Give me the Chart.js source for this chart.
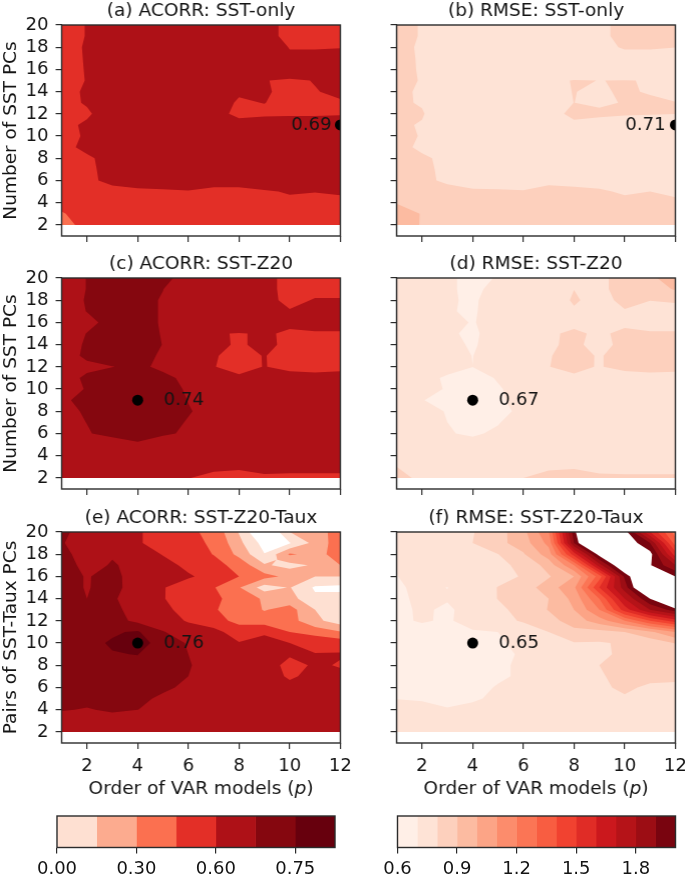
<!DOCTYPE html>
<html>
<head>
<meta charset="utf-8">
<style>
  html, body { margin: 0; padding: 0; background: #fff; }
  body { width: 685px; height: 875px; position: relative; overflow: hidden; }
  canvas { position: absolute; }
</style>
<script src="https://cdn.jsdelivr.net/npm/chart.js@4"></script>
</head>
<body>
<script>
const xGrid = [1, 2, 3, 4, 5, 6, 7, 8, 9, 10, 11, 12];
const yGrid = [20, 19, 18, 17, 16, 15, 14, 13, 12, 11, 10, 9, 8, 7, 6, 5, 4, 3, 2];
const xTicks = [2, 4, 6, 8, 10, 12];
const yTicks = [2, 4, 6, 8, 10, 12, 14, 16, 18, 20];

const levelsAcorr = [0, 0.15, 0.30, 0.45, 0.60, 0.70, 0.75, 0.80];
const levelsRmse = [0.6, 0.7, 0.8, 0.9, 1.0, 1.1, 1.2, 1.3, 1.4, 1.5, 1.6, 1.7, 1.8, 1.9, 2.0];
const colorsAcorr = ['#fee0d2', '#fcab8f', '#fb7050', '#e32f27', '#ae1117', '#85070f', '#67000d'];
const colorsRmse = ['#ffefe7', '#fee3d6', '#fdd0bd', '#fcbba1', '#fca486', '#fc8c6c', '#fb7555',
                    '#f85d41', '#f14230', '#e02c26', '#cb181d', '#b51318', '#9c0d14', '#79040f'];
const ticksAcorr = ['0.00', '0.30', '0.60', '0.75'];
const ticksRmse = ['0.6', '0.9', '1.2', '1.5', '1.8'];

// rows run from y=20 down to y=2, columns from p=1 to p=12
const acorrSstOnly = [
  [.58, .602, .63, .63, .63, .63, .63, .63, .61, .592, .58, .58],
  [.58, .602, .64, .65, .65, .65, .65, .64, .61, .592, .585, .585],
  [.58, .605, .64, .65, .65, .65, .65, .64, .63, .598, .598, .599],
  [.58, .604, .64, .65, .66, .66, .66, .65, .64, .608, .608, .61],
  [.58, .603, .64, .65, .66, .66, .66, .65, .63, .62, .62, .62],
  [.58, .602, .64, .65, .66, .66, .65, .62, .601, .596, .601, .61],
  [.58, .608, .64, .65, .66, .66, .64, .605, .606, .586, .599, .604],
  [.58, .606, .64, .65, .66, .65, .62, .595, .601, .585, .59, .598],
  [.58, .59, .64, .65, .66, .65, .606, .596, .591, .59, .592, .588],
  [.58, .611, .65, .66, .67, .67, .65, .606, .627, .64, .632, .69],
  [.58, .607, .65, .66, .67, .67, .66, .65, .65, .65, .65, .66],
  [.58, .616, .65, .66, .67, .67, .66, .65, .65, .65, .65, .65],
  [.58, .59, .623, .65, .66, .66, .65, .65, .65, .65, .65, .65],
  [.57, .59, .616, .64, .65, .65, .65, .65, .65, .64, .64, .64],
  [.56, .59, .612, .623, .64, .645, .615, .615, .63, .63, .63, .63],
  [.54, .57, .585, .59, .59, .595, .59, .59, .595, .604, .601, .605],
  [.49, .53, .56, .57, .57, .57, .58, .58, .58, .59, .59, .59],
  [.44, .50, .53, .54, .54, .54, .55, .55, .55, .56, .56, .56],
  [.40, .494, .51, .52, .52, .52, .52, .53, .53, .54, .54, .54]
];
const rmseSstOnly = [
  [.82, .796, .76, .75, .75, .75, .75, .76, .79, .813, .83, .83],
  [.82, .796, .75, .74, .74, .74, .74, .75, .79, .813, .83, .83],
  [.82, .791, .75, .74, .74, .74, .74, .75, .77, .81, .81, .801],
  [.82, .793, .75, .74, .74, .74, .74, .75, .75, .76, .76, .76],
  [.82, .794, .75, .74, .74, .74, .75, .76, .76, .76, .76, .76],
  [.82, .796, .75, .74, .74, .74, .79, .802, .7997, .801, .7987, .78],
  [.82, .788, .75, .74, .74, .74, .78, .802, .785, .815, .79, .78],
  [.82, .79, .75, .74, .74, .74, .77, .8005, .78, .807, .823, .802],
  [.82, .81, .71, .73, .74, .74, .78, .813, .825, .81, .805, .802],
  [.82, .791, .74, .73, .73, .73, .75, .789, .742, .743, .75, .71],
  [.82, .796, .74, .73, .72, .72, .73, .74, .74, .74, .74, .74],
  [.82, .788, .74, .73, .72, .72, .73, .74, .74, .74, .74, .74],
  [.83, .81, .785, .74, .73, .73, .74, .74, .74, .74, .74, .74],
  [.84, .81, .79, .75, .74, .74, .75, .75, .75, .75, .75, .75],
  [.85, .82, .785, .77, .76, .76, .785, .78, .77, .76, .76, .76],
  [.87, .85, .83, .81, .81, .805, .82, .815, .81, .79, .80, .78],
  [.898, .87, .85, .84, .84, .84, .84, .84, .83, .82, .82, .82],
  [.92, .898, .87, .86, .86, .86, .86, .85, .85, .85, .85, .84],
  [.95, .894, .88, .87, .87, .87, .87, .86, .86, .86, .86, .85]
];
const acorrSstZ20 = [
  [.68, .701, .72, .72, .71, .685, .67, .66, .61, .59, .59, .59],
  [.68, .701, .72, .72, .7005, .68, .67, .66, .61, .59, .592, .592],
  [.68, .703, .72, .71, .6975, .68, .66, .65, .61, .592, .602, .602],
  [.68, .701, .72, .71, .6975, .68, .66, .65, .63, .602, .61, .61],
  [.67, .69, .712, .71, .6975, .68, .66, .65, .63, .61, .612, .612],
  [.68, .701, .72, .71, .6985, .67, .605, .597, .606, .593, .597, .597],
  [.68, .705, .72, .71, .6995, .67, .61, .595, .61, .59, .585, .585],
  [.68, .708, .72, .71, .696, .66, .602, .592, .601, .59, .585, .585],
  [.67, .69, .699, .709, .691, .65, .601, .59, .601, .592, .59, .592],
  [.68, .708, .72, .73, .71, .69, .66, .605, .62, .612, .61, .612],
  [.68, .703, .72, .74, .72, .694, .66, .64, .63, .63, .63, .63],
  [.68, .734, .73, .74, .72, .699, .66, .64, .63, .63, .63, .63],
  [.68, .708, .72, .73, .72, .702, .69, .65, .64, .64, .64, .64],
  [.68, .701, .715, .72, .71, .698, .67, .65, .64, .64, .64, .64],
  [.67, .695, .72, .715, .705, .695, .66, .64, .64, .64, .64, .64],
  [.65, .66, .663, .695, .68, .67, .65, .63, .63, .63, .63, .63],
  [.64, .64, .64, .65, .65, .65, .64, .63, .63, .63, .63, .63],
  [.62, .62, .62, .63, .63, .62, .608, .604, .609, .607, .607, .607],
  [.62, .62, .61, .61, .61, .601, .59, .59, .595, .595, .595, .595]
];
const rmseSstZ20 = [
  [.75, .74, .708, .687, .703, .74, .76, .78, .79, .817, .88, .95],
  [.75, .74, .708, .687, .717, .74, .77, .7995, .79, .817, .85, .91],
  [.75, .74, .708, .69, .732, .745, .775, .805, .785, .811, .801, .805],
  [.75, .74, .706, .69, .74, .75, .76, .795, .77, .797, .78, .785],
  [.75, .74, .71, .698, .713, .74, .76, .782, .77, .784, .776, .776],
  [.75, .74, .71, .688, .731, .75, .79, .812, .788, .816, .806, .806],
  [.75, .74, .71, .696, .716, .75, .79, .815, .775, .822, .82, .82],
  [.75, .74, .72, .699, .73, .76, .798, .812, .797, .815, .82, .82],
  [.75, .74, .74, .7002, .74, .76, .799, .815, .796, .82, .82, .82],
  [.75, .74, .683, .68, .704, .74, .77, .79, .77, .765, .78, .775],
  [.75, .74, .691, .67, .695, .72, .75, .76, .76, .76, .76, .76],
  [.75, .703, .673, .67, .69, .723, .75, .75, .75, .75, .75, .75],
  [.75, .74, .693, .68, .69, .708, .74, .75, .75, .75, .75, .75],
  [.75, .73, .70, .68, .696, .73, .75, .75, .75, .75, .75, .75],
  [.76, .73, .704, .692, .71, .74, .75, .75, .75, .75, .75, .75],
  [.76, .74, .73, .72, .73, .74, .75, .76, .76, .76, .76, .76],
  [.77, .75, .75, .75, .75, .76, .77, .77, .77, .77, .77, .77],
  [.80, .77, .76, .76, .77, .78, .79, .795, .785, .78, .78, .78],
  [.83, .78, .77, .77, .78, .80, .82, .82, .81, .81, .81, .81]
];
const acorrSstZ20Taux = [
  [.705, .69, .66, .605, .58, .48, .41, .14, -.21, .149, .25, .35],
  [.705, .665, .66, .605, .58, .47, .44, .19, -.06, -.01, .2, .39],
  [.72, .67, .695, .65, .595, .52, .445, .26, .005, .32, .25, .36],
  [.73, .68, .705, .684, .63, .58, .5, .4, .17, .1, .17, .3],
  [.73, .695, .725, .66, .64, .61, .57, .45, .35, .26, .15, .152],
  [.73, .695, .73, .655, .605, .555, .46, .31, .08, .158, -.02, -.04],
  [.73, .7, .71, .66, .605, .55, .48, .39, .28, .21, .03, .06],
  [.73, .72, .72, .67, .62, .57, .46, .4, .29, .36, .15, .05],
  [.72, .73, .72, .688, .65, .59, .49, .42, .38, .36, .19, .07],
  [.73, .74, .745, .755, .705, .655, .66, .506, .575, .45, .39, .31],
  [.74, .74, .754, .77, .73, .695, .66, .61, .66, .6, .56, .54],
  [.74, .74, .748, .751, .72, .7, .66, .64, .64, .62, .605, .61],
  [.735, .74, .74, .74, .73, .705, .67, .65, .68, .55, .62, .59],
  [.73, .73, .73, .73, .72, .7, .66, .64, .67, .58, .64, .63],
  [.72, .73, .73, .72, .715, .683, .66, .65, .65, .64, .65, .65],
  [.72, .72, .72, .72, .685, .67, .65, .65, .65, .65, .65, .65],
  [.705, .695, .71, .7005, .68, .66, .65, .64, .64, .64, .64, .64],
  [.66, .67, .67, .67, .66, .65, .65, .64, .64, .64, .64, .64],
  [.64, .64, .64, .64, .64, .63, .63, .63, .63, .63, .63, .63]
];
const rmseSstZ20Taux = [
  [.75, .75, .76, .795, .86, .97, 1.19, 1.96, 2.5, 2.05, 1.6, 1.25],
  [.75, .75, .76, .8, .87, .95, 1.13, 1.9, 2.45, 2.1, 1.9, 1.35],
  [.75, .75, .76, .78, .798, .89, 1.05, 1.55, 2.05, 2.4, 2.04, 1.55],
  [.705, .75, .76, .77, .78, .82, .94, 1.2, 1.75, 2.18, 2.01, 1.8],
  [.698, .73, .75, .76, .78, .805, .89, 1.0, 1.35, 1.92, 2.3, 2.0],
  [.685, .725, .698, .76, .802, .85, .95, 1.08, 1.5, 1.85, 2.28, 2.6],
  [.68, .72, .71, .75, .802, .84, .9, 1.03, 1.3, 1.7, 2.0, 2.4],
  [.67, .718, .68, .75, .78, .83, .905, 1.0, 1.2, 1.55, 1.8, 1.95],
  [.68, .71, .687, .74, .77, .81, .86, .95, 1.05, 1.2, 1.4, 1.55],
  [.67, .66, .68, .69, .7, .74, .8, .87, .87, .9, .98, 1.1],
  [.65, .65, .66, .67, .69, .72, .77, .795, .79, .813, .84, .905],
  [.64, .64, .65, .66, .68, .71, .75, .77, .78, .82, .84, .85],
  [.64, .64, .65, .66, .69, .71, .74, .76, .8, .83, .84, .84],
  [.65, .65, .65, .66, .69, .71, .73, .75, .78, .86, .85, .83],
  [.66, .66, .66, .68, .705, .72, .74, .75, .77, .83, .77, .77],
  [.697, .69, .68, .69, .715, .73, .74, .75, .76, .78, .76, .76],
  [.75, .73, .705, .72, .74, .75, .75, .76, .76, .77, .77, .77],
  [.76, .76, .75, .75, .76, .76, .76, .77, .77, .77, .77, .77],
  [.77, .77, .77, .77, .77, .77, .77, .78, .78, .78, .78, .78]
];

const inkColor = '#141414';
const frameColor = '#2b2b2b';
const fontSize = 18;
const labelSize = 18.5;

Chart.defaults.font.family = '"DejaVu Sans", sans-serif';
Chart.defaults.font.size = fontSize;
Chart.defaults.color = inkColor;
Chart.defaults.animation = false;

// keep the part of a polygon where the field is at or above the level
function clipAbove(poly, level) {
  const out = [];
  for (let i = 0; i < poly.length; i++) {
    const a = poly[i];
    const b = poly[(i + 1) % poly.length];
    if (a[2] >= level) out.push(a);
    if ((a[2] >= level) !== (b[2] >= level)) {
      const f = (level - a[2]) / (b[2] - a[2]);
      out.push([a[0] + (b[0] - a[0]) * f, a[1] + (b[1] - a[1]) * f, level]);
    }
  }
  return out;
}

// a saddle cell is settled by the mean of its corners, as contouring usually does
function splitSaddle(quad, level) {
  const up = quad.map(p => p[2] >= level);
  if (up[0] !== up[2] || up[1] !== up[3] || up[0] === up[1]) return [quad];
  const mid = [0, 1, 2].map(k => quad.reduce((s, p) => s + p[k], 0) / 4);
  return quad.map((p, i) => [p, quad[(i + 1) % 4], mid]);
}

function fillAbove(chart, grid, level, color) {
  const { ctx, scales: { x, y } } = chart;
  ctx.beginPath();
  for (let r = 0; r < yGrid.length - 1; r++) {
    for (let c = 0; c < xGrid.length - 1; c++) {
      const quad = [
        [xGrid[c], yGrid[r], grid[r][c]],
        [xGrid[c + 1], yGrid[r], grid[r][c + 1]],
        [xGrid[c + 1], yGrid[r + 1], grid[r + 1][c + 1]],
        [xGrid[c], yGrid[r + 1], grid[r + 1][c]]
      ];
      splitSaddle(quad, level).forEach(part => {
        const poly = clipAbove(part, level);
        poly.forEach((p, i) => {
          const px = x.getPixelForValue(p[0]);
          const py = y.getPixelForValue(p[1]);
          if (i === 0) ctx.moveTo(px, py); else ctx.lineTo(px, py);
        });
        if (poly.length) ctx.closePath();
      });
    }
  }
  ctx.fillStyle = color;
  ctx.fill();
}

const contourPlugin = {
  id: 'contour',
  beforeDatasetsDraw(chart, args, opts) {
    const { ctx, chartArea: a } = chart;
    ctx.save();
    ctx.beginPath();
    ctx.rect(a.left, a.top, a.width, a.height);
    ctx.clip();
    opts.colors.forEach((color, i) => fillAbove(chart, opts.grid, opts.levels[i], color));
    // above the last level matplotlib leaves the plot empty
    fillAbove(chart, opts.grid, opts.levels[opts.colors.length], '#ffffff');
    ctx.restore();
  },
  afterDatasetsDraw(chart, args, opts) {
    const { ctx, scales: { x, y } } = chart;
    ctx.save();
    ctx.fillStyle = inkColor;
    ctx.textBaseline = 'middle';
    ctx.font = fontSize + 'px "DejaVu Sans"';
    ctx.fillText(opts.best.label, x.getPixelForValue(opts.best.x) + opts.best.dx, y.getPixelForValue(opts.best.y));
    ctx.restore();
  }
};

const framePlugin = {
  id: 'frame',
  afterDraw(chart) {
    const { ctx, chartArea: a } = chart;
    ctx.save();
    ctx.strokeStyle = frameColor;
    ctx.lineWidth = 1.4;
    ctx.strokeRect(a.left, a.top, a.width, a.height);
    ctx.restore();
  }
};

const xLabelPlugin = {
  id: 'xLabel',
  afterDraw(chart, args, opts) {
    if (!opts.show) return;
    const { ctx, chartArea: a } = chart;
    const plain = 'Order of VAR models (';
    const italic = 'p';
    const end = ')';
    const font = labelSize + 'px "DejaVu Sans"';
    ctx.save();
    ctx.fillStyle = inkColor;
    ctx.textBaseline = 'middle';
    ctx.font = font;
    const w1 = ctx.measureText(plain).width;
    const w3 = ctx.measureText(end).width;
    ctx.font = 'italic ' + font;
    const w2 = ctx.measureText(italic).width;
    const left = (a.left + a.right) / 2 - (w1 + w2 + w3) / 2;
    const top = a.bottom + 46;
    ctx.font = font;
    ctx.fillText(plain, left, top);
    ctx.font = 'italic ' + font;
    ctx.fillText(italic, left + w1, top);
    ctx.font = font;
    ctx.fillText(end, left + w1 + w2, top);
    ctx.restore();
  }
};

function addCanvas(left, top, width, height) {
  const canvas = document.createElement('canvas');
  canvas.width = width;
  canvas.height = height;
  canvas.style.left = left + 'px';
  canvas.style.top = top + 'px';
  canvas.style.width = width + 'px';
  canvas.style.height = height + 'px';
  document.body.appendChild(canvas);
  return canvas.getContext('2d');
}

function tickGrid() {
  return { display: true, drawOnChartArea: false, drawTicks: true, tickLength: 6, color: frameColor, lineWidth: 1.2 };
}

function drawPanel(p) {
  const isLeft = p.column === 0;
  const isBottom = p.row === 2;
  const left = isLeft ? 0 : 350;
  const top = p.row * 253.3;
  const yAxisWidth = isLeft ? 61.5 : 46.5;
  // the lowest y label needs about 18px below the plot, so the short axes get that room too
  const xAxisHeight = isBottom ? 58 : 18;
  // an empty right axis mirrors the left one, so the title centres over the plot
  const width = 278.5 + yAxisWidth * 2;
  const height = Math.round(25 + 211 + xAxisHeight);

  new Chart(addCanvas(left, top, width, height), {
    type: 'scatter',
    data: {
      datasets: [{
        data: [{ x: p.best.x, y: p.best.y }],
        pointRadius: 5.5,
        pointBackgroundColor: '#000',
        pointBorderWidth: 0
      }]
    },
    options: {
      responsive: false,
      devicePixelRatio: 1,
      events: [],
      layout: { padding: 0 },
      plugins: {
        legend: { display: false },
        tooltip: { enabled: false },
        title: { display: true, text: p.title, color: inkColor, font: { size: labelSize, weight: 'normal' }, padding: { top: 0, bottom: 2.8 } },
        contour: { grid: p.grid, levels: p.levels, colors: p.colors, best: p.best },
        xLabel: { show: isBottom }
      },
      scales: {
        x: {
          type: 'linear', min: 1, max: 12,
          grid: tickGrid(),
          border: { display: false },
          afterBuildTicks: s => { s.ticks = xTicks.map(v => ({ value: v })); },
          afterFit: s => { s.height = xAxisHeight; },
          ticks: { display: isBottom, maxRotation: 0, autoSkip: false, padding: isBottom ? 7 : 2, color: inkColor }
        },
        y: {
          type: 'linear', min: 1, max: 20,
          grid: tickGrid(),
          border: { display: false },
          afterBuildTicks: s => { s.ticks = yTicks.map(v => ({ value: v })); },
          afterFit: s => { s.width = yAxisWidth; },
          ticks: { display: isLeft, autoSkip: false, padding: isLeft ? 7 : 2, color: inkColor },
          title: { display: !!p.yTitle, text: p.yTitle, color: inkColor, font: { size: labelSize }, padding: 0 }
        },
        yBlank: {
          type: 'linear', position: 'right', min: 1, max: 20,
          grid: { display: false },
          border: { display: false },
          ticks: { display: false },
          afterFit: s => { s.width = yAxisWidth; }
        }
      }
    },
    plugins: [contourPlugin, framePlugin, xLabelPlugin]
  });
}

function drawColorbar(left, width, padLeft, padRight, colors, tickEvery, labels) {
  new Chart(addCanvas(left, 810, width, 65), {
    type: 'bar',
    data: {
      labels: [''],
      datasets: colors.map(c => ({ data: [1], backgroundColor: c, borderWidth: 0, barPercentage: 1, categoryPercentage: 1 }))
    },
    options: {
      indexAxis: 'y',
      responsive: false,
      devicePixelRatio: 1,
      events: [],
      layout: { padding: { left: padLeft, right: padRight, top: 6, bottom: 0 }, autoPadding: false },
      plugins: { legend: { display: false }, tooltip: { enabled: false } },
      scales: {
        x: {
          type: 'linear', min: 0, max: colors.length, stacked: true,
          grid: tickGrid(),
          border: { display: false },
          afterBuildTicks: s => { s.ticks = labels.map((l, i) => ({ value: i * tickEvery })); },
          afterFit: s => { s.height = 27.5; },
          ticks: { maxRotation: 0, autoSkip: false, padding: 5, color: inkColor, callback: v => labels[v / tickEvery] }
        },
        y: { stacked: true, display: false }
      }
    },
    plugins: [framePlugin]
  });
}

drawPanel({ row: 0, column: 0, title: '(a) ACORR: SST-only', yTitle: 'Number of SST PCs', grid: acorrSstOnly, levels: levelsAcorr, colors: colorsAcorr, best: { x: 12, y: 11, label: '0.69', dx: -49 } });
drawPanel({ row: 0, column: 1, title: '(b) RMSE: SST-only', yTitle: '', grid: rmseSstOnly, levels: levelsRmse, colors: colorsRmse, best: { x: 12, y: 11, label: '0.71', dx: -50 } });
drawPanel({ row: 1, column: 0, title: '(c) ACORR: SST-Z20', yTitle: 'Number of SST PCs', grid: acorrSstZ20, levels: levelsAcorr, colors: colorsAcorr, best: { x: 4, y: 9, label: '0.74', dx: 26 } });
drawPanel({ row: 1, column: 1, title: '(d) RMSE: SST-Z20', yTitle: '', grid: rmseSstZ20, levels: levelsRmse, colors: colorsRmse, best: { x: 4, y: 9, label: '0.67', dx: 26 } });
drawPanel({ row: 2, column: 0, title: '(e) ACORR: SST-Z20-Taux', yTitle: 'Pairs of SST-Taux PCs', grid: acorrSstZ20Taux, levels: levelsAcorr, colors: colorsAcorr, best: { x: 4, y: 10, label: '0.76', dx: 26 } });
drawPanel({ row: 2, column: 1, title: '(f) RMSE: SST-Z20-Taux', yTitle: '', grid: rmseSstZ20Taux, levels: levelsRmse, colors: colorsRmse, best: { x: 4, y: 10, label: '0.65', dx: 26 } });

drawColorbar(0, 350, 57, 15, colorsAcorr, 2, ticksAcorr);
drawColorbar(360, 325, 37.5, 9.5, colorsRmse, 3, ticksRmse);
</script>
</body>
</html>
